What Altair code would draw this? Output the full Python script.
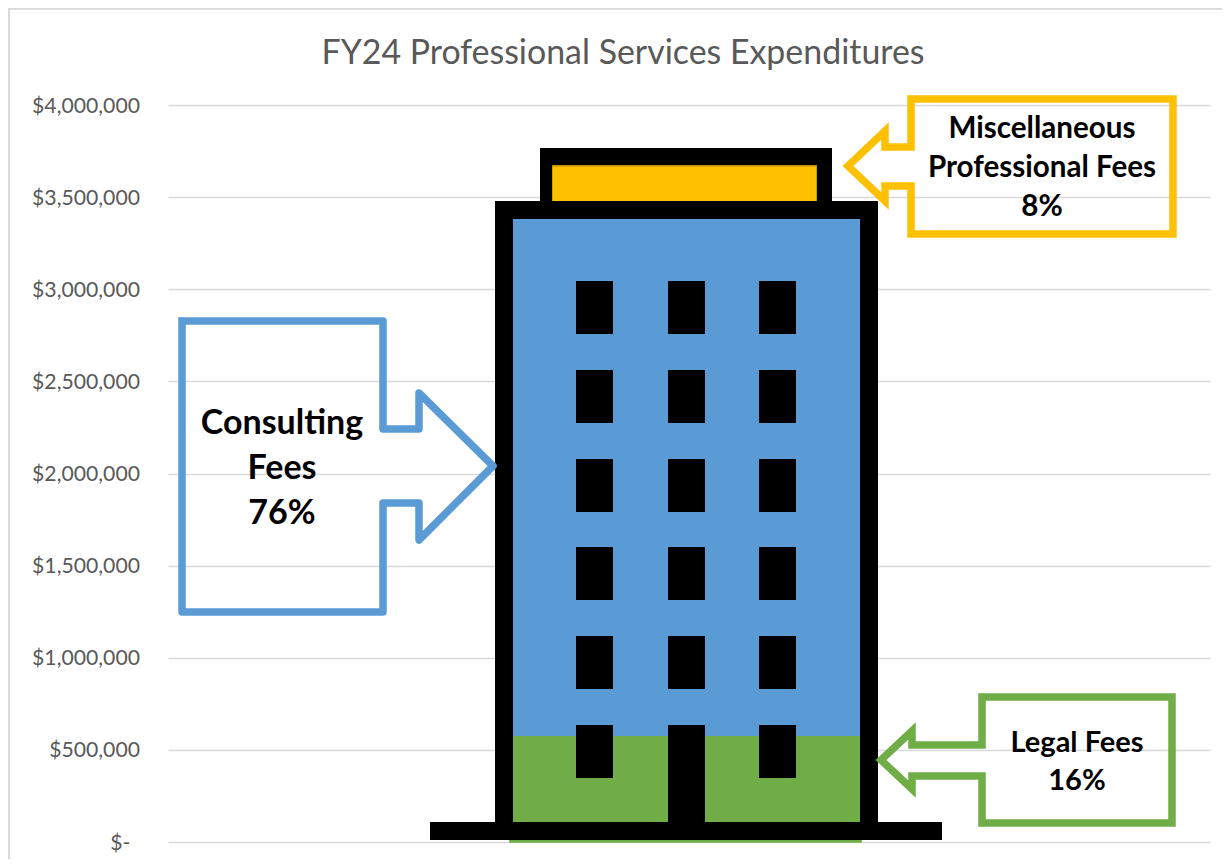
import altair as alt
import pandas as pd

FONT = "Lato"
TICKS = [0, 500000, 1000000, 1500000, 2000000, 2500000, 3000000, 3500000, 4000000]

# stacked spending values
LEGAL = 580000
CONSULTING = 2805000
MISC = 285000

# building icon (x in plot units, y in dollars)
WINDOW_X = [576, 668, 759]
WINDOW_W = 37
WINDOW_TOP = [3044800, 2561700, 2078700, 1601100, 1118000, 635000]
WINDOW_BOTTOM = [2757100, 2274100, 1791000, 1313400, 830400, 347400]

ICON_X = [495, 860, 495, 540, 817, 540, 430, 668]
ICON_X2 = [513, 878, 878, 552, 832, 832, 942, 705]
ICON_Y = [10900, 10900, 3381300, 3479000, 3479000, 3674350, 10900, 108500]
ICON_Y2 = [3479000, 3479000, 3479000, 3766600, 3766600, 3766600, 108500, 635000]

# callout outlines
BLUE_X = [182, 383, 383, 419, 419, 493, 419, 419, 383, 383, 182, 182]
BLUE_Y = [2827700, 2827700, 2241500, 2241500, 2436900, 2040700, 1639100, 1839900, 1839900, 1248300, 1248300, 2827700]
BLUE_FILL_X = [182, 383, 383, 419, 419, 493]
BLUE_FILL_TOP = [2827700, 2827700, 2241500, 2241500, 2436900, 2040700]
BLUE_FILL_BOTTOM = [1248300, 1248300, 1839900, 1839900, 1639100, 2040700]

GOLD_X = [911, 1173, 1173, 911, 911, 885, 885, 848, 885, 885, 911, 911]
GOLD_Y = [4032600, 4032600, 3299900, 3299900, 3560400, 3560400, 3479000, 3669000, 3858900, 3772000, 3772000, 4032600]
GOLD_FILL_X = [848, 885, 885, 911, 911, 1173]
GOLD_FILL_TOP = [3669000, 3858900, 3772000, 3772000, 4032600, 4032600]
GOLD_FILL_BOTTOM = [3669000, 3479000, 3560400, 3560400, 3299900, 3299900]

GREEN_X = [982, 1172, 1172, 982, 982, 912, 912, 881, 912, 912, 982, 982]
GREEN_Y = [787000, 787000, 103100, 103100, 358200, 358200, 287700, 445000, 602400, 526500, 526500, 787000]
GREEN_FILL_X = [881, 912, 912, 982, 982, 1172]
GREEN_FILL_TOP = [445000, 602400, 526500, 526500, 787000, 787000]
GREEN_FILL_BOTTOM = [445000, 287700, 358200, 358200, 103100, 103100]

# callout texts
LABELS = ["Consulting", "Fees", "76%", "Miscellaneous", "Professional Fees", "8%", "Legal Fees", "16%"]
LABEL_X = [282, 282, 282, 1042, 1042, 1042, 1077, 1077]
LABEL_Y = [2268700, 2024400, 1780200, 3869800, 3658100, 3446400, 537300, 331100]
LABEL_SIZE = [34, 34, 34, 29.6, 29.6, 29.6, 29, 29]

BORDER_X = [9, 9, 1222]
BORDER_Y = [-150000, 4522000, 4522000]

xs = alt.Scale(domain=[168, 1210], nice=False, zero=False)
ys = alt.Scale(domain=[0, 4000000], nice=False, zero=False)

axis = alt.Axis(
    title=None, values=TICKS, grid=True, gridColor="#D9D9D9", gridWidth=1.5,
    domain=False, ticks=False, labelFont=FONT, labelFontSize=21.2, labelColor="#595959",
    labelOffset=1,
    labelPadding={"condition": {"test": "datum.value === 0", "value": 38}, "value": 28.5},
    labelExpr="datum.value == 0 ? '$-' : format(datum.value, '$,.0f')",
)

X = lambda f="x": alt.X(f"{f}:Q", scale=xs, axis=None)
Y = lambda f="y": alt.Y(f"{f}:Q", scale=ys, axis=axis)

bars = pd.DataFrame({
    "x": [510, 510, 552], "x2": [861, 861, 817],
    "y": [0, LEGAL, LEGAL + CONSULTING],
    "y2": [LEGAL, LEGAL + CONSULTING, LEGAL + CONSULTING + MISC],
    "c": ["#70AD47", "#5B9BD5", "#FFC000"],
    "s": ["#70AD47", "#5B9BD5", "#BF9000"],
})
bar_layer = alt.Chart(bars).mark_rect(strokeWidth=1.5).encode(
    x=X(), x2="x2:Q", y=Y(), y2="y2:Q",
    fill=alt.Fill("c:N", scale=None), stroke=alt.Stroke("s:N", scale=None),
)

icon_rows = [dict(x=a, x2=b, y=c, y2=d) for a, b, c, d in zip(ICON_X, ICON_X2, ICON_Y, ICON_Y2)]
for wx in WINDOW_X:
    for top, bottom in zip(WINDOW_TOP, WINDOW_BOTTOM):
        icon_rows.append(dict(x=wx, x2=wx + WINDOW_W, y=bottom, y2=top))
icon_layer = alt.Chart(pd.DataFrame(icon_rows)).mark_rect(color="black").encode(
    x=X(), x2="x2:Q", y=Y(), y2="y2:Q"
)

def callout(xo, yo, fx, ft, fb, color, join):
    fill = alt.Chart(pd.DataFrame({"x": fx, "y": ft, "y2": fb, "o": range(len(fx))})).mark_area(
        color="white", interpolate="linear", opacity=1
    ).encode(x=X(), y=Y(), y2="y2:Q", order="o:Q")
    line = alt.Chart(pd.DataFrame({"x": xo, "y": yo, "o": range(len(xo))})).mark_line(
        color=color, strokeWidth=7.5, strokeJoin=join, strokeCap="square", strokeMiterLimit=10
    ).encode(x=X(), y=Y(), order="o:Q")
    return [fill, line]

layers = [bar_layer, icon_layer]
layers += callout(BLUE_X, BLUE_Y, BLUE_FILL_X, BLUE_FILL_TOP, BLUE_FILL_BOTTOM, "#5B9BD5", "round")
layers += callout(GOLD_X, GOLD_Y, GOLD_FILL_X, GOLD_FILL_TOP, GOLD_FILL_BOTTOM, "#FFC000", "miter")
layers += callout(GREEN_X, GREEN_Y, GREEN_FILL_X, GREEN_FILL_TOP, GREEN_FILL_BOTTOM, "#70AD47", "miter")

text_layer = alt.Chart(pd.DataFrame({"t": LABELS, "x": LABEL_X, "y": LABEL_Y, "s": LABEL_SIZE})).mark_text(
    font=FONT, fontWeight="bold", color="black", align="center", baseline="middle"
).encode(x=X(), y=Y(), text="t:N", size=alt.Size("s:Q", scale=None, legend=None))
layers.append(text_layer)

border = alt.Chart(pd.DataFrame({"x": BORDER_X, "y": BORDER_Y, "o": range(3)})).mark_line(
    color="#D9D9D9", strokeWidth=2, clip=False
).encode(x=X(), y=Y(), order="o:Q")
layers.append(border)

chart = alt.layer(*layers).properties(
    width=1042, height=737,
    autosize=alt.AutoSizeParams(type="none"),
    padding={"left": 160, "top": 97, "right": 12, "bottom": 17},
    background="white",
    title=alt.TitleParams(
        "FY24 Professional Services Expenditures", font=FONT, fontSize=33.9, fontWeight="normal",
        color="#595959", anchor="middle", dx=-66, offset=-66,
    ),
).configure_view(stroke=None)

chart.save("out.html", embed_options={"renderer": "svg", "actions": False})
